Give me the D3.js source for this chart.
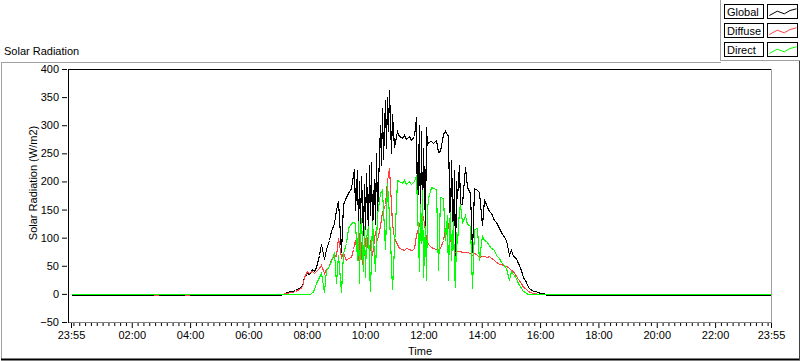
<!DOCTYPE html>
<html><head><meta charset="utf-8">
<script src="https://cdn.jsdelivr.net/npm/d3@7"></script>
<style>
html,body{margin:0;padding:0;background:#fff;}
svg{display:block;font-family:"Liberation Sans",Arial,sans-serif;font-size:11px;}
</style></head><body><svg id="c" width="800" height="361"></svg>
<script>
const chartTitle = "Solar Radiation";
const yLabel = "Solar Radiation (W/m2)";
const xLabel = "Time";
const seriesNames = ["Global", "Diffuse", "Direct"];
const seriesColors = ["#000000", "#ff4040", "#00ff00"];
const yTicks = [-50, 0, 50, 100, 150, 200, 250, 300, 350, 400];
const xTickLabels = ["-23:55", "02:00", "04:00", "06:00", "08:00", "10:00", "12:00", "14:00", "16:00", "18:00", "20:00", "22:00", "23:55"];
const xDomain = ["-23:55", "23:55"];
const minorTickStepMin = 12;

// daytime samples, every 5 minutes from 07:00 to 16:30
const dayStart = "07:00";
const dayStepMin = 5;
const globalVals = [
  -2, -2, 0, 2, 4, 5, 6, 7, 9, 11,
  14, 30, 38, 35, 44, 40, 48, 70, 88, 62,
  80, 96, 112, 126, 150, 165, 75, 160, 172, 180,
  188, 212, 220, 110, 205, 115, 215, 108, 235, 120,
  250, 140, 300, 220, 345, 300, 363, 320, 262, 289,
  280, 278, 282, 276, 280, 274, 280, 315, 150, 300,
  120, 297, 270, 272, 268, 274, 252, 255, 285, 290,
  280, 120, 235, 60, 200, 229, 160, 225, 190, 180,
  75, 188, 185, 182, 123, 168, 155, 148, 143, 132,
  127, 118, 110, 102, 96, 70, 78, 68, 63, 55,
  42, 30, 22, 13, 9, 6, 5, 3, 2, 1,
  0, -2, -2, -2, -2
];
const diffuseVals = [
  0, 0, 0, 1, 2, 3, 4, 5, 7, 9,
  12, 30, 40, 37, 40, 38, 40, 46, 52, 37,
  45, 50, 62, 70, 68, 100, 65, 72, 60, 64,
  66, 80, 95, 60, 115, 50, 100, 110, 96, 70,
  112, 96, 120, 145, 160, 200, 224, 126, 100, 88,
  82, 80, 78, 82, 80, 78, 80, 105, 125, 130,
  137, 100, 88, 84, 82, 80, 78, 82, 96, 115,
  125, 95, 80, 74, 76, 76, 75, 74, 74, 73,
  70, 72, 69, 66, 67, 68, 66, 68, 64, 60,
  56, 54, 53, 50, 49, 46, 43, 40, 31, 26,
  20, 12, 8, 5, 3, 2, 1, 0, 0, 0,
  0, 0, 0, 0, 0
];
const directVals = [
  0, 0, 0, 0, 0, 0, 0, 0, 0, 0,
  0, 0, 0, 0, 2, 8, 20, 30, 37, 4,
  43, 50, 58, 75, 20, 70, 3, 73, 90, 118,
  126, 128, 126, 20, 135, 30, 120, 15, 5, 130,
  40, 140, 179, 185, 80, 197, 140, 8, 84, 203,
  200, 198, 202, 196, 200, 195, 200, 212, 40, 150,
  25, 170, 195, 190, 188, 186, 43, 173, 170, 96,
  25, 145, 130, 13, 90, 160, 126, 140, 125, 120,
  10, 115, 117, 60, 105, 96, 92, 87, 82, 78,
  70, 64, 57, 52, 46, 25, 40, 35, 28, 20,
  10, 5, 2, 0, 0, 0, 0, 0, 0, 0,
  0, 0, 0, 0, 0
];
// denser 2.5-minute samples in the most variable stretches: [start, values]
const fineStepMin = 2.5;
const globalFine = [
  ["09:35", [212, 222, 150, 220, 110, 200, 120, 210, 105, 195, 115, 215, 108, 230, 140, 235, 112, 205, 125, 250, 140]],
  ["10:30", [300, 230, 330, 240, 345, 260, 350, 290, 363, 250, 320]],
  ["11:45", [315, 140, 300, 114, 290, 130, 260, 120, 297, 265, 270]],
  ["12:50", [280, 180, 120, 238, 100, 220, 50, 200, 170, 229, 160]]
];
const diffuseFine = [
  ["09:40", [95, 70, 60, 100, 115, 65, 50, 90, 100, 75, 110, 60, 96]]
];
const directFine = [
  ["09:40", [126, 60, 130, 20, 110, 135, 40, 120, 30, 100, 120, 50, 5]],
  ["11:50", [40, 160, 90, 185, 30, 120, 25, 150, 170]],
  ["12:45", [96, 140, 25, 120, 145, 60, 130, 40, 13, 110, 90, 150, 160]]
];
// night parts
const preTimes = ["-23:55", "06:55"];
const globalPre = [-2, -2];
const directPre = [0, 0];
const diffusePreTimes = ["-23:55", "02:45", "02:46", "02:54", "02:55", "03:48", "03:49", "03:58", "03:59", "06:55"];
const diffusePre = [0, 0, -2, -2, 0, 0, -2, -2, 0, 0];
const postTimes = ["16:35", "23:55"];
const globalPost = [-2, -2];
const diffusePost = [0, 0];
const directPost = [0, 0];

function toMin(s) {
  const prev = s.startsWith("-");
  const [h, m] = s.replace("-", "").split(":").map(Number);
  return h * 60 + m - (prev ? 1440 : 0);
}
const day0 = toMin(dayStart);
function build(preT, preV, dayV, fine, postT, postV) {
  let pts = preT.map((t, i) => [toMin(t), preV[i]]);
  dayV.forEach((v, i) => pts.push([day0 + i * dayStepMin, v]));
  fine.forEach(([start, vals]) => {
    const s = toMin(start), e = s + (vals.length - 1) * fineStepMin;
    pts = pts.filter(p => p[0] < s || p[0] > e);
    vals.forEach((v, i) => pts.push([s + i * fineStepMin, v]));
  });
  postT.forEach((t, i) => pts.push([toMin(t), postV[i]]));
  return pts.sort((a, b) => a[0] - b[0]);
}
const series = [
  build(preTimes, globalPre, globalVals, globalFine, postTimes, globalPost),
  build(diffusePreTimes, diffusePre, diffuseVals, diffuseFine, postTimes, diffusePost),
  build(preTimes, directPre, directVals, directFine, postTimes, directPost)
];

const svg = d3.select("#c");
const L = 68, R = 772, T = 69, B = 322;
const x = d3.scaleLinear().domain(xDomain.map(toMin)).range([71, 771]);
const y = d3.scaleLinear().domain([-50, 400]).range([B, T]);

svg.append("rect").attr("width", 800).attr("height", 361).attr("fill", "#fff");

// outer frame
svg.append("line").attr("x1", 1.5).attr("x2", 1.5).attr("y1", 62).attr("y2", 360).attr("stroke", "#a0a0a0");
svg.append("line").attr("x1", 1).attr("x2", 721).attr("y1", 62.5).attr("y2", 62.5).attr("stroke", "#a0a0a0");
svg.append("line").attr("x1", 1).attr("x2", 800).attr("y1", 359.5).attr("y2", 359.5).attr("stroke", "#000").attr("stroke-width", 2);
svg.append("line").attr("x1", 799.5).attr("x2", 799.5).attr("y1", 61).attr("y2", 360).attr("stroke", "#404040");

// title
svg.append("text").attr("x", 4).attr("y", 55).attr("fill", "#000").text(chartTitle);

// legend panel
svg.append("line").attr("x1", 720.5).attr("x2", 720.5).attr("y1", 0).attr("y2", 61).attr("stroke", "#a0a0a0");
svg.append("line").attr("x1", 720).attr("x2", 800).attr("y1", 60.5).attr("y2", 60.5).attr("stroke", "#a0a0a0");
const swatchPts = [[1.8, 11], [9.8, 6.7], [16.8, 9.3], [22.5, 6], [29, 4.3]];
seriesNames.forEach((n, i) => {
  const gy = 4.5 + i * 19;
  const g = svg.append("g");
  g.append("rect").attr("x", 724.5).attr("y", gy).attr("width", 39).attr("height", 14).attr("fill", "#fff").attr("stroke", "#000");
  g.append("text").attr("x", 727).attr("y", gy + 11).text(n);
  g.append("rect").attr("x", 767.5).attr("y", gy).attr("width", 30).attr("height", 14).attr("fill", "#fff").attr("stroke", "#000");
  g.append("path").attr("d", d3.line()(swatchPts.map(p => [767.5 + p[0], gy + p[1]])))
    .attr("fill", "none").attr("stroke", seriesColors[i]).attr("stroke-width", 1);
});

// plot
svg.append("clipPath").attr("id", "clip").append("rect").attr("x", L).attr("y", T).attr("width", R - L).attr("height", B - T + 1);
const line = d3.line()
  .x(d => Math.round(x(d[0])) + 0.5)
  .y(d => Math.round(y(d[1])) + 0.5);
const gLines = svg.append("g").attr("clip-path", "url(#clip)");
series.forEach((s, i) => {
  gLines.append("path").attr("d", line(s)).attr("fill", "none")
    .attr("stroke", seriesColors[i]).attr("stroke-width", 1.1)
    .attr("shape-rendering", "crispEdges");
});

// plot frame
svg.append("line").attr("x1", L).attr("x2", R).attr("y1", T + 0.5).attr("y2", T + 0.5).attr("stroke", "#000");
svg.append("line").attr("x1", R - 0.5).attr("x2", R - 0.5).attr("y1", T).attr("y2", B + 1).attr("stroke", "#a0a0a0");
svg.append("line").attr("x1", L).attr("x2", R).attr("y1", B + 0.5).attr("y2", B + 0.5).attr("stroke", "#808080");
svg.append("line").attr("x1", L + 0.5).attr("x2", L + 0.5).attr("y1", T).attr("y2", B + 1).attr("stroke", "#000");

// y axis
const yAxis = d3.axisLeft(y).tickValues(yTicks).tickSize(5).tickPadding(3).tickFormat(d3.format("d"));
const gy = svg.append("g").attr("transform", `translate(${L - 1},0)`).call(yAxis);
gy.select(".domain").remove();
gy.selectAll("text").attr("font-family", "Liberation Sans, Arial, sans-serif").attr("font-size", 11).attr("fill", "#000");
gy.selectAll("line").attr("stroke", "#000");

// x axis minor ticks
const majorMins = xTickLabels.map(toMin);
const minor = d3.range(0, 1440, minorTickStepMin).filter(m => !majorMins.includes(m));
const xMinor = d3.axisBottom(x).tickValues(minor).tickSize(3).tickFormat("");
const gxm = svg.append("g").attr("transform", `translate(0,${B + 1})`).call(xMinor);
gxm.select(".domain").remove();
gxm.selectAll("line").attr("stroke", "#000");
const xAxis = d3.axisBottom(x).tickValues(majorMins).tickSize(5).tickPadding(3)
  .tickFormat((d, i) => xTickLabels[i].replace("-", ""));
const gx = svg.append("g").attr("transform", `translate(0,${B + 1})`).call(xAxis);
gx.select(".domain").remove();
gx.selectAll("line").attr("stroke", "#000");
gx.selectAll("text").attr("font-family", "Liberation Sans, Arial, sans-serif").attr("font-size", 11).attr("fill", "#000");

// axis titles
svg.append("text").attr("x", (L + R) / 2).attr("y", 355).attr("text-anchor", "middle").text(xLabel);
svg.append("text").attr("transform", "translate(37,183) rotate(-90)").attr("text-anchor", "middle").text(yLabel);
</script></body></html>
